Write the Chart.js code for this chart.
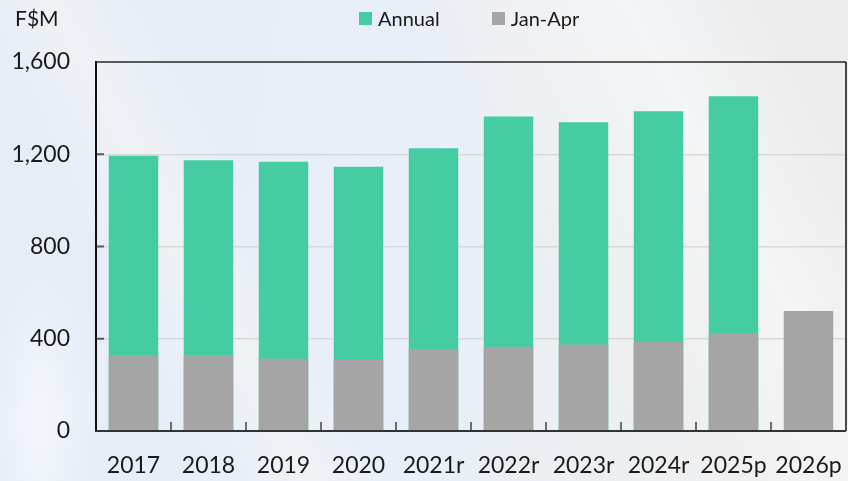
<!DOCTYPE html>
<html>
<head>
<meta charset="utf-8">
<script src="https://cdn.jsdelivr.net/npm/chart.js@4.4.1/dist/chart.umd.min.js"></script>
<style>
  html, body { margin: 0; padding: 0; }
  body {
    width: 848px; height: 481px; overflow: hidden; position: relative;
    font-family: Lato, "Open Sans", sans-serif; color: #1a1a1a;
    background:
      radial-gradient(ellipse 70px 200px at 40px 420px, rgba(255,255,255,0.55), rgba(255,255,255,0) 75%),
      linear-gradient(62deg, rgba(255,255,255,0) 20%, rgba(246,246,244,0.55) 28%, rgba(246,246,244,0.0) 36%),
      linear-gradient(62deg, rgba(255,255,255,0) 58%, rgba(240,240,240,0.7) 66%, rgba(250,250,250,0.5) 80%, rgba(235,235,235,0.6) 92%),
      linear-gradient(100deg, #e6edf7 0%, #e8eff9 50%, #eceff3 68%, #efefef 100%);
  }
  #wrap { position: absolute; left: 0; top: 0; width: 848px; height: 481px; }
  #unit { position: absolute; left: 15px; top: 5px; font-size: 21px; line-height: 26px; }
  #legend { position: absolute; left: 359px; top: 5px; display: flex; font-size: 20px; line-height: 26px; }
  #legend .item { display: flex; align-items: center; margin-right: 52px; }
  #legend .box { width: 13px; height: 13px; margin-right: 6px; }
</style>
</head>
<body>
<div id="wrap"><canvas id="chart"></canvas></div>
<div id="unit">F$M</div>
<div id="legend"></div>
<script>
// Fiscal years shown on the category axis
const years = ['2017', '2018', '2019', '2020', '2021r', '2022r', '2023r', '2024r', '2025p', '2026p'];
// Full-year totals, F$M (no full year yet for 2026)
const annual = [1193, 1174, 1168, 1146, 1226, 1364, 1339, 1386, 1451, null];
// January–April totals, F$M
const janApr = [330, 330, 313, 310, 355, 365, 375, 387, 423, 520];
// Value axis ticks
const yTicks = [0, 400, 800, 1200, 1600];

const seriesNames = ['Annual', 'Jan-Apr'];
const seriesColors = ['#45cca3', '#a5a5a5'];

// Tick marks drawn inside the plot, plus the frame around it
const framePlugin = {
  id: 'frame',
  afterDatasetsDraw(chart) {
    const { ctx, chartArea: { left, right, top, bottom }, scales: { x, y } } = chart;
    const seg = (x1, y1, x2, y2, color, w) => {
      ctx.beginPath(); ctx.strokeStyle = color; ctx.lineWidth = w;
      ctx.moveTo(x1, y1); ctx.lineTo(x2, y2); ctx.stroke();
    };
    ctx.save();
    yTicks.forEach(v => {
      const py = y.getPixelForValue(v);
      seg(left, py, left + 8, py, '#595959', 2);
    });
    for (let i = 1; i < years.length; i++) {
      const px = (x.getPixelForValue(i - 1) + x.getPixelForValue(i)) / 2;
      seg(px, bottom, px, bottom - 9, '#404040', 1.5);
    }
    seg(left, top, right, top, '#5a5a5a', 2);
    seg(right, top, right, bottom, '#111', 1.5);
    seg(left, top - 1, left, bottom + 1, '#111', 2);
    seg(left - 1, bottom, right, bottom, '#333', 2);
    ctx.restore();
  }
};

const chart = new Chart(document.getElementById('chart'), {
  type: 'bar',
  data: {
    labels: years,
    datasets: [
      { label: seriesNames[0], data: annual, backgroundColor: seriesColors[0], order: 1,
        barPercentage: 0.66, categoryPercentage: 1 },
      { label: seriesNames[1], data: janApr, backgroundColor: seriesColors[1], order: 0,
        barPercentage: 0.66, categoryPercentage: 1 }
    ]
  },
  options: {
    responsive: true,
    maintainAspectRatio: false,
    animation: false,
    layout: { padding: { top: 62, right: 2, bottom: 0, left: 0 } },
    plugins: { legend: { display: false }, tooltip: { enabled: false } },
    scales: {
      x: {
        stacked: true,
        grid: { display: false, drawTicks: false },
        border: { display: false },
        ticks: { color: '#1a1a1a', font: { family: 'Lato', size: 23 }, padding: 21, maxRotation: 0 },
        afterFit(scale) { scale.height = 50; scale.paddingLeft = 0; scale.paddingRight = 0; }
      },
      y: {
        stacked: false,
        min: 0, max: 1600,
        afterBuildTicks(scale) { scale.ticks = yTicks.map(v => ({ value: v })); },
        grid: { color: '#d9d9d9', lineWidth: 1.5, drawTicks: false },
        border: { display: false },
        ticks: {
          color: '#1a1a1a', font: { family: 'Lato', size: 23 }, padding: 26,
          callback: v => v.toLocaleString('en-US')
        },
        afterFit(scale) { scale.width = 96; }
      }
    }
  },
  plugins: [framePlugin]
});

// Legend built from the chart's own datasets, in dataset order
const legend = document.getElementById('legend');
chart.data.datasets.forEach(ds => {
  const item = document.createElement('div');
  item.className = 'item';
  const box = document.createElement('span');
  box.className = 'box';
  box.style.background = ds.backgroundColor;
  const txt = document.createElement('span');
  txt.textContent = ds.label;
  item.appendChild(box); item.appendChild(txt);
  legend.appendChild(item);
});
</script>
</body>
</html>
